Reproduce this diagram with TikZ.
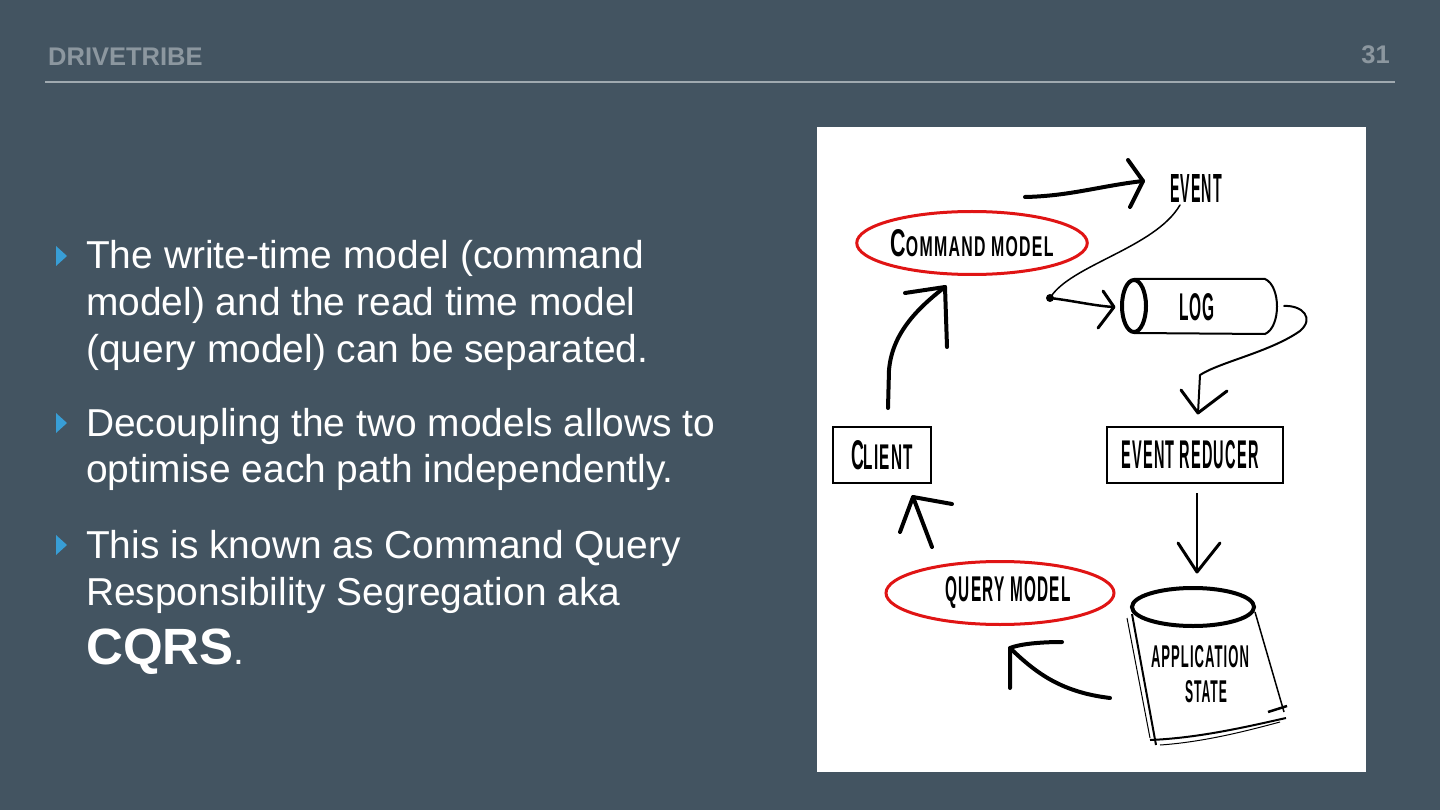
\documentclass[tikz,border=0pt]{standalone}
\usepackage{fontspec}
\setmainfont{Liberation Sans}
\usetikzlibrary{positioning,calc,shapes.geometric}
\definecolor{slidebg}{RGB}{67,84,97}
\definecolor{headgray}{RGB}{140,151,159}
\definecolor{rulegray}{RGB}{160,170,176}
\definecolor{bulletblue}{RGB}{56,158,214}
\definecolor{markred}{RGB}{224,20,20}
% hand-lettered label squeezed to a given width and cap height
\newcommand\sketchlabel[3]{\resizebox{#1pt}{#2pt}{\bfseries\addfontfeature{LetterSpace=8}#3}}
\newcommand\smallcap{\fontsize{7.4}{8}\selectfont}

\begin{document}
\begin{tikzpicture}[x=1pt,y=-1pt,
    bullettext/.style={anchor=base west, inner sep=0pt, text=white,
                       font=\fontsize{38.9}{47}\selectfont},
    header/.style={inner sep=0pt, text=headgray, font=\fontsize{25.5}{30}\selectfont\bfseries},
    sketch/.style={line width=4pt, line cap=round, line join=round},
    thinsketch/.style={line width=1.5pt, line cap=round, line join=round},
    modelring/.style={ellipse, draw=markred, line width=3pt, inner sep=0pt},
    boxed/.style={draw, line width=2.5pt, inner sep=0pt, minimum height=56pt},
    plain/.style={inner sep=0pt}]
  \useasboundingbox (0,0) rectangle (1440,810);
  \fill[slidebg] (0,0) rectangle (1440,810);

  % Header
  \node[header, anchor=base west] (brand) at (48,66) {DRIVETRIBE};
  \node[header, anchor=base east] (pageno) at (1390,64) {31};
  \draw[rulegray, line width=1.5pt] (45,82) -- (1395,82);

  % Bullets
  \foreach \by in {269,436,558}{
    \fill[bulletblue] (56,\by-23) -- (56,\by-3) -- (67,\by-13) -- cycle;
  }
  \node[bullettext] (b1a) at (86,269) {The write-time model (command};
  \node[bullettext] (b1b) at (86,316) {model) and the read time model};
  \node[bullettext] (b1c) at (86,362) {(query model) can be separated.};
  \node[bullettext] (b2a) at (86,436) {Decoupling the two models allows to};
  \node[bullettext] (b2b) at (86,482) {optimise each path independently.};
  \node[bullettext] (b3a) at (86,558) {This is known as Command Query};
  \node[bullettext] (b3b) at (86,605) {Responsibility Segregation aka};
  \node[bullettext] (b3c) at (86,664) {{\fontsize{51}{57}\selectfont\bfseries CQRS}.};

  % Sketch panel
  \fill[white] (817,127) rectangle (1366,772);

  \node[modelring, minimum width=226pt, minimum height=63pt] (cmd) at (972,243)
    {\sketchlabel{163}{27}{C{\smallcap OMMAND MODEL}}};
  \node[plain] (evt) at (1196,188) {\sketchlabel{52}{28}{EVENT}};
  \node[plain] (logtxt) at (1197,307) {\sketchlabel{36}{27}{LOG}};
  \node[boxed, minimum width=98pt] (client) at (882,455)
    {\sketchlabel{62}{29}{C{\fontsize{8.6}{9}\selectfont LIENT}}};
  \node[boxed, minimum width=176pt] (reducer) at (1195,455)
    {\hspace*{-10pt}\sketchlabel{137}{28}{EVENT REDUCER}};
  \node[modelring, minimum width=228pt, minimum height=63pt] (query) at (1000,593)
    {\hspace*{16pt}\sketchlabel{125}{25}{QUERY MODEL}};
  \node[plain] (appl) at (1200,657) {\sketchlabel{98}{22}{APPLICATION}};
  \node[plain] (state) at (1206,692) {\sketchlabel{42}{22}{STATE}};

  % Log cylinder
  \draw[line width=2pt] (1134,279) -- (1265,279)
    .. controls (1281,286) and (1281,327) .. (1265,334) -- (1134,333);
  \draw[line width=4pt] (1134,306) ellipse [x radius=12, y radius=26];

  % Application state cylinder
  \draw[line width=2pt] (1132,614) -- (1156,745);
  \draw[line width=1pt] (1127,618) -- (1150,738);
  \draw[line width=1.5pt] (1255,612) -- (1284,712);
  \draw[line width=2pt] (1150,740) .. controls (1200,738) and (1250,726) .. (1286,718);
  \draw[line width=1pt] (1160,745) .. controls (1205,742) and (1250,730) .. (1280,722);
  \draw[line width=2.5pt] (1268,712) -- (1287,706);
  \fill[white] (1193,607) ellipse [x radius=62, y radius=20];
  \draw[line width=4pt] (1193,607) ellipse [x radius=61, y radius=19];

  % Arrow points
  \coordinate (evtTip) at (1143,181);
  \coordinate (blob) at (1050,298);
  \coordinate (logTip) at (1114,307);
  \coordinate (redTip) at (1198,413);
  \coordinate (cmdTip) at (945,287);
  \coordinate (clientTip) at (913,497);
  \coordinate (queryTip) at (1010,648);
  \coordinate (stateTip) at (1197,572);

  % command model -> event
  \draw[sketch] (1025,197) .. controls (1070,196) and (1100,186) .. (evtTip);
  \draw[sketch] (1128,160) -- (evtTip) -- (1130,207);

  % event -> log
  \draw[thinsketch] (1180,205) .. controls (1155,248) and (1070,265) .. (blob);
  \fill (blob) circle (4);
  \draw[line width=2.5pt, line cap=round] (blob) .. controls (1075,301) and (1095,306) .. (logTip);
  \draw[line width=3pt, line cap=round, line join=round] (1103,291) -- (logTip) -- (1098,328);

  % log -> event reducer
  \draw[line width=2pt, line cap=round, line join=round] (1284,306)
    .. controls (1302,305) and (1315,318) .. (1300,331)
    .. controls (1270,352) and (1220,362) .. (1200,375) -- (redTip);
  \draw[line width=3pt, line cap=round, line join=round] (1181,390) -- (redTip) -- (1227,391);

  % event reducer -> application state
  \draw[line width=1.2pt] (1197,493) -- (stateTip);
  \draw[line width=3pt, line cap=round, line join=round] (1178,543) -- (stateTip) -- (1220,543);

  % application state -> query model
  \draw[sketch] (1110,698) .. controls (1060,692) and (1035,672) .. (queryTip);
  \draw[sketch] (1062,642) .. controls (1040,642) and (1020,644) .. (queryTip) -- (1010,688);

  % query model -> client
  \draw[sketch] (932,547) -- (clientTip);
  \draw[sketch] (952,504) -- (clientTip) -- (900,532);

  % client -> command model
  \draw[sketch] (888,408) -- (889,370) .. controls (892,335) and (915,310) .. (cmdTip);
  \draw[sketch] (905,293) -- (cmdTip) -- (947,347);
\end{tikzpicture}
\end{document}
